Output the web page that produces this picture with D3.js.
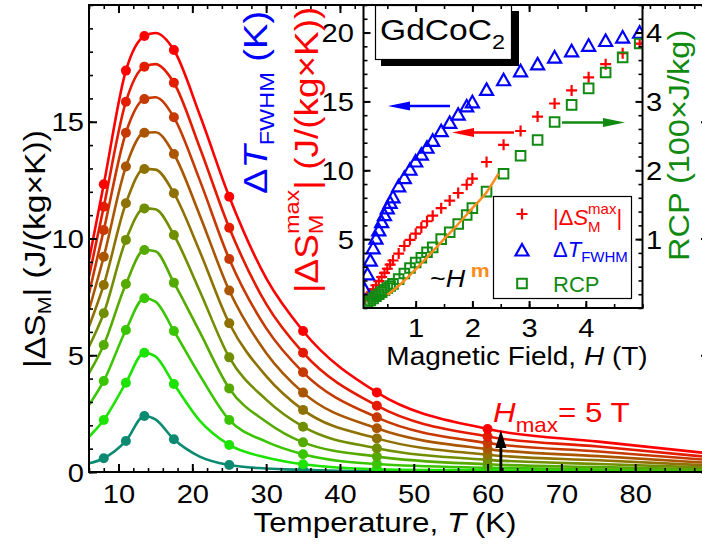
<!DOCTYPE html>
<html>
<head>
<meta charset="utf-8">
<title>GdCoC2 magnetic entropy change</title>
<script src="https://cdn.jsdelivr.net/npm/d3@7/dist/d3.min.js"></script>
<style>
  html, body { margin: 0; padding: 0; background: #fff; }
  svg { display: block; }
  text { font-family: "Liberation Sans", Arial, Helvetica, sans-serif; white-space: pre; }
</style>
</head>
<body>
<svg id="chart" width="702" height="546" viewBox="0 0 702 546"></svg>
<script>
// ---------- main panel: |ΔS_M| (J/(kg×K)) versus temperature, one curve per field step ----------
const fieldSteps = [0.5, 1, 1.5, 2, 2.5, 3, 3.5, 4, 4.5, 5];
const fieldColors = ["#0b8a72", "#1ce300", "#39c600", "#55aa00", "#718e00",
                     "#8e7100", "#aa5500", "#c63900", "#e31c00", "#ff0000"];

// measured points
const markerT = [8, 11, 13.5, 17.5, 25, 35, 45, 60];
const dS_05 = [0.59, 1.33, 2.40, 1.40, 0.30, 0.09, 0.02, 0.01];
const dS_10 = [2.23, 3.82, 5.11, 3.77, 1.16, 0.33, 0.12, 0.07];
const dS_15 = [3.90, 6.08, 7.44, 6.04, 2.23, 0.76, 0.34, 0.18];
const dS_20 = [5.44, 8.05, 9.51, 8.11, 3.58, 1.27, 0.66, 0.33];
const dS_25 = [6.80, 9.94, 11.29, 10.15, 4.91, 1.94, 1.02, 0.52];
const dS_30 = [8.01, 11.51, 12.98, 11.94, 6.37, 2.66, 1.44, 0.74];
const dS_35 = [9.22, 13.08, 14.53, 13.62, 7.77, 3.40, 1.87, 0.98];
const dS_40 = [10.36, 14.53, 15.97, 15.19, 9.12, 4.27, 2.34, 1.24];
const dS_45 = [11.36, 15.86, 17.36, 16.67, 10.46, 5.11, 2.84, 1.52];
const dS_50 = [12.32, 17.19, 18.67, 18.07, 11.79, 6.04, 3.41, 1.84];

// smooth fitted curves
const fitT = [6, 8, 11, 13.5, 15, 17.5, 21, 25, 30, 35, 45, 60, 75, 90];
const fit_05 = [0.37, 0.59, 1.33, 2.40, 2.25, 1.40, 0.66, 0.30, 0.15, 0.09, 0.03, 0.01, 0.005, 0.003];
const fit_10 = [1.51, 2.23, 3.82, 5.11, 4.95, 3.77, 2.20, 1.16, 0.62, 0.33, 0.12, 0.07, 0.04, 0.02];
const fit_15 = [2.87, 3.90, 6.08, 7.44, 7.30, 6.04, 4.15, 2.23, 1.30, 0.76, 0.34, 0.18, 0.11, 0.06];
const fit_20 = [4.23, 5.44, 8.05, 9.51, 9.45, 8.11, 6.00, 3.58, 2.15, 1.27, 0.66, 0.33, 0.21, 0.11];
const fit_25 = [5.37, 6.80, 9.94, 11.29, 11.25, 10.15, 7.75, 4.91, 3.10, 1.94, 1.02, 0.52, 0.34, 0.19];
const fit_30 = [6.23, 8.01, 11.51, 12.98, 12.95, 11.94, 9.45, 6.37, 4.11, 2.66, 1.44, 0.74, 0.50, 0.28];
const fit_35 = [6.94, 9.22, 13.08, 14.53, 14.55, 13.62, 11.00, 7.77, 5.10, 3.40, 1.87, 0.98, 0.68, 0.39];
const fit_40 = [7.65, 10.36, 14.53, 15.97, 16.05, 15.19, 12.50, 9.12, 6.16, 4.27, 2.34, 1.24, 0.88, 0.51];
const fit_45 = [8.37, 11.36, 15.86, 17.36, 17.47, 16.67, 13.90, 10.46, 7.20, 5.11, 2.84, 1.52, 1.09, 0.64];
const fit_50 = [9.08, 12.32, 17.19, 18.67, 18.80, 18.07, 15.30, 11.79, 8.30, 6.04, 3.41, 1.84, 1.30, 0.80];

const mainXTicks = [10, 20, 30, 40, 50, 60, 70, 80];
const mainYTicks = [0, 5, 10, 15];

// ---------- inset: peak |ΔS_M|, ΔT_FWHM and RCP versus field ----------
const fieldH = [0.1, 0.15, 0.2, 0.25, 0.3, 0.35, 0.4, 0.45, 0.5, 0.55, 0.6, 0.7, 0.8, 0.9, 1.0,
                1.1, 1.2, 1.3, 1.45, 1.6, 1.75, 1.9, 2.0, 2.25, 2.55, 2.85, 3.15, 3.45, 3.75,
                4.05, 4.35, 4.65, 4.95];
const dSmax = [0.65, 0.85, 1.05, 1.35, 1.65, 1.95, 2.25, 2.55, 2.85, 3.15, 3.45, 3.95, 4.5, 4.95, 5.4,
               5.85, 6.3, 6.7, 7.25, 7.8, 8.35, 8.95, 9.4, 10.6, 11.85, 12.85, 13.9, 14.85, 15.8,
               16.75, 17.7, 18.5, 19.2];
const dTfwhm = [1.3, 2.4, 3.4, 4.3, 5.0, 5.6, 6.2, 6.7, 7.2, 7.6, 8.0, 8.8, 9.4, 10.0, 10.6,
                11.1, 11.6, 12.1, 12.8, 13.4, 14.0, 14.6, 14.9, 15.8, 16.5, 17.15, 17.65, 18.15, 18.6,
                19.0, 19.35, 19.6, 19.95];
const rcp = [0.06, 0.08, 0.11, 0.14, 0.17, 0.2, 0.23, 0.26, 0.29, 0.32, 0.35, 0.42, 0.5, 0.58, 0.66,
             0.73, 0.81, 0.88, 1.0, 1.1, 1.22, 1.35, 1.45, 1.69, 1.95, 2.21, 2.44, 2.70, 2.95,
             3.19, 3.42, 3.64, 3.84];
// power-law fit through the low-field RCP points
const fitH = [0.5, 0.75, 1.0, 1.25, 1.5, 1.75, 2.0, 2.25, 2.46];
const fitRCP = [0.19, 0.36, 0.56, 0.78, 1.0, 1.22, 1.45, 1.68, 1.95];

const insetHTicks = [1, 2, 3, 4];
const insetLeftTicks = [5, 10, 15, 20];
const insetRightTicks = [1, 2, 3, 4];

// ---------- drawing ----------
const SX = 1.12;                 // horizontal widening of the lettering
const RED = "#ff0000", BLUE = "#0000ff", GREEN = "#108a10", ORANGE = "#ff8c1a";

const svg = d3.select("#chart");
const measureG = svg.append("g").attr("visibility", "hidden");

function textWidth(str, size, opts = {}) {
  const t = measureG.append("text").attr("font-size", size)
    .attr("font-style", opts.italic ? "italic" : null).text(str);
  const w = t.node().getComputedTextLength();
  t.remove();
  return w;
}

// text with sub/superscripts; parts carry their own size, offset and style
function richText(parent, cfg) {
  const { x, y, rotate = 0, sx = SX, size, anchor = "start", fill = "#000", parts } = cfg;
  const g = parent.append("g")
    .attr("transform", `translate(${x},${y}) rotate(${rotate}) scale(${sx},1)`);
  const text = g.append("text").attr("font-size", size).attr("fill", fill).attr("text-anchor", anchor);
  let shift = 0, carryDx = 0;
  parts.forEach(p => {
    if (p.stack) {
      const fs = p.size;
      const wSup = textWidth(p.sup, fs), wSub = textWidth(p.sub, fs);
      text.append("tspan").attr("font-size", fs).attr("dx", carryDx || null)
        .attr("dy", p.supDy - shift).text(p.sup);
      text.append("tspan").attr("font-size", fs).attr("dx", -wSup)
        .attr("dy", p.subDy - p.supDy).text(p.sub);
      shift = p.subDy;
      carryDx = Math.max(wSup - wSub, 0);
      return;
    }
    const off = p.dy || 0;
    const ts = text.append("tspan").attr("font-size", p.size || size).attr("dy", off - shift);
    const dx = (p.dx || 0) + carryDx;
    if (dx) ts.attr("dx", dx);
    carryDx = 0;
    if (p.italic) ts.attr("font-style", "italic");
    if (p.bold) ts.attr("font-weight", "bold");
    if (p.fill) ts.attr("fill", p.fill);
    ts.text(p.t);
    shift = off;
  });
  return g;
}

function styleAxis(sel, width) {
  sel.select(".domain").remove();
  sel.selectAll(".tick line").attr("stroke", "#000").attr("stroke-width", width);
  sel.attr("font-family", null).attr("font-size", 26);
}

// ----- main panel -----
const x = d3.scaleLinear().domain([6, 90]).range([89, 709]);
const y = d3.scaleLinear().domain([0, 20]).range([472, 5]);

const main = svg.append("g");
main.append("clipPath").attr("id", "mainClip")
  .append("rect").attr("x", 89).attr("y", 5).attr("width", 620).attr("height", 467);

const markerSets = [dS_05, dS_10, dS_15, dS_20, dS_25, dS_30, dS_35, dS_40, dS_45, dS_50];
const fitSets = [fit_05, fit_10, fit_15, fit_20, fit_25, fit_30, fit_35, fit_40, fit_45, fit_50];

const line = d3.line().x(d => x(d[0])).y(d => y(d[1])).curve(d3.curveMonotoneX);
const plot = main.append("g").attr("clip-path", "url(#mainClip)");
fieldSteps.forEach((h, i) => {
  const col = fieldColors[i];
  plot.append("path")
    .datum(fitT.map((t, j) => [t, fitSets[i][j]]))
    .attr("d", line).attr("fill", "none").attr("stroke", col).attr("stroke-width", 2.6);
  plot.append("g").selectAll("circle")
    .data(markerT.map((t, j) => [t, markerSets[i][j]]))
    .join("circle")
    .attr("cx", d => x(d[0])).attr("cy", d => y(d[1])).attr("r", 5).attr("fill", col);
});

// main axes (ticks point inward)
const minorX = d3.range(6, 91, 2), minorY = d3.range(0, 21, 1);
main.append("g").attr("transform", "translate(0,472)")
  .call(d3.axisBottom(x).tickValues(minorX).tickSize(-4).tickFormat("")).call(styleAxis, 1.6);
const axB = main.append("g").attr("transform", "translate(0,472)")
  .call(d3.axisBottom(x).tickValues(mainXTicks).tickSize(-8).tickFormat(d3.format("d"))).call(styleAxis, 2);
axB.selectAll("text").attr("y", null).attr("dy", null).attr("fill", "#000")
  .attr("transform", `translate(0,31) scale(${SX},1)`);

main.append("g").attr("transform", "translate(0,5)")
  .call(d3.axisTop(x).tickValues(minorX).tickSize(-4).tickFormat("")).call(styleAxis, 1.6);
main.append("g").attr("transform", "translate(0,5)")
  .call(d3.axisTop(x).tickValues(mainXTicks).tickSize(-8).tickFormat("")).call(styleAxis, 2);

main.append("g").attr("transform", "translate(89,0)")
  .call(d3.axisLeft(y).tickValues(minorY).tickSize(-4).tickFormat("")).call(styleAxis, 1.6);
const axL = main.append("g").attr("transform", "translate(89,0)")
  .call(d3.axisLeft(y).tickValues(mainYTicks).tickSize(-8).tickFormat(d3.format("d"))).call(styleAxis, 2);
axL.selectAll("text").attr("x", null).attr("dy", null).attr("fill", "#000")
  .attr("text-anchor", "end").attr("transform", `translate(-5,9) scale(${SX},1)`);

main.append("g").attr("transform", "translate(709,0)")
  .call(d3.axisRight(y).tickValues(minorY).tickSize(-4).tickFormat("")).call(styleAxis, 1.6);
main.append("g").attr("transform", "translate(709,0)")
  .call(d3.axisRight(y).tickValues([0, 5, 10, 15, 20]).tickSize(-8).tickFormat("")).call(styleAxis, 2);

main.append("rect").attr("x", 89).attr("y", 5).attr("width", 620).attr("height", 467)
  .attr("fill", "none").attr("stroke", "#000").attr("stroke-width", 2);

// axis titles
richText(main, { x: 385, y: 532, size: 28, anchor: "middle",
  parts: [{ t: "Temperature, " }, { t: "T", italic: true }, { t: " (K)" }] });
richText(main, { x: 45, y: 249, rotate: -90, size: 30, anchor: "middle",
  parts: [{ t: "|ΔS" }, { t: "M", size: 19, dy: 6 }, { t: "| (J/(kg×K))" }] });

// H_max annotation and arrow
richText(main, { x: 493, y: 421.5, size: 28, fill: RED,
  parts: [{ t: "H", italic: true }, { t: "max", size: 20, dy: 10 }, { t: "= 5 T" }] });
main.append("line").attr("x1", x(61.8)).attr("x2", x(61.8)).attr("y1", y(0)).attr("y2", 444)
  .attr("stroke", "#000").attr("stroke-width", 2.8);
main.append("path")
  .attr("d", `M${x(61.8)},430 L${x(61.8) - 5.5},448 L${x(61.8) + 5.5},448 Z`).attr("fill", "#000");

// ----- inset -----
const ix = d3.scaleLinear().domain([0.08, 5]).range([363.5, 642.5]);
const iyL = d3.scaleLinear().domain([0, 22]).range([308, 5]);
const iyR = d3.scaleLinear().domain([0, 4.4]).range([308, 5]);

const inset = svg.append("g");
inset.append("rect").attr("x", 363.5).attr("y", 5).attr("width", 279).attr("height", 303).attr("fill", "#fff");
inset.append("clipPath").attr("id", "insetClip")
  .append("rect").attr("x", 363.5).attr("y", 5).attr("width", 279).attr("height", 303);

// GdCoC2 tag with drop shadow
inset.append("rect").attr("x", 381).attr("y", 11).attr("width", 138).attr("height", 55).attr("fill", "#000");
inset.append("rect").attr("x", 375.5).attr("y", 5.5).attr("width", 136).attr("height", 54)
  .attr("fill", "#fff").attr("stroke", "#000").attr("stroke-width", 1.2);
richText(inset, { x: 380, y: 40, size: 30,
  parts: [{ t: "GdCoC" }, { t: "2", size: 21, dy: 9 }] });

const idata = inset.append("g").attr("clip-path", "url(#insetClip)");
const plusPath = "M-5.5,0H5.5M0,-5.5V5.5";
const triPath = "M0,-7L6.5,4.5L-6.5,4.5Z";
const sqPath = "M-4.8,-4.8H4.8V4.8H-4.8Z";

idata.append("g").selectAll("path").data(fieldH.map((h, i) => [h, dSmax[i]])).join("path")
  .attr("transform", d => `translate(${ix(d[0])},${iyL(d[1])})`).attr("d", plusPath)
  .attr("fill", "none").attr("stroke", RED).attr("stroke-width", 2.2);
idata.append("g").selectAll("path").data(fieldH.map((h, i) => [h, dTfwhm[i]])).join("path")
  .attr("transform", d => `translate(${ix(d[0])},${iyL(d[1])})`).attr("d", triPath)
  .attr("fill", "none").attr("stroke", BLUE).attr("stroke-width", 2.2);
idata.append("g").selectAll("path").data(fieldH.map((h, i) => [h, rcp[i]])).join("path")
  .attr("transform", d => `translate(${ix(d[0])},${iyR(d[1])})`).attr("d", sqPath)
  .attr("fill", "none").attr("stroke", GREEN).attr("stroke-width", 2);
idata.append("path")
  .datum(fitH.map((h, i) => [h, fitRCP[i]]))
  .attr("d", d3.line().x(d => ix(d[0])).y(d => iyR(d[1])).curve(d3.curveMonotoneX))
  .attr("fill", "none").attr("stroke", ORANGE).attr("stroke-width", 2.5);

// arrows pointing to each quantity's axis
function hArrow(x1, x2, yy, col) {
  const dir = Math.sign(x2 - x1);
  inset.append("line").attr("x1", x1).attr("x2", x2 - dir * 18).attr("y1", yy).attr("y2", yy)
    .attr("stroke", col).attr("stroke-width", 2.5);
  inset.append("path")
    .attr("d", `M${x2},${yy} L${x2 - dir * 22},${yy - 4.5} L${x2 - dir * 22},${yy + 4.5} Z`)
    .attr("fill", col);
}
hArrow(450, 388, 106, BLUE);
hArrow(514, 452, 132.5, RED);
hArrow(562, 625, 122.5, GREEN);

// ~H^m label
richText(inset, { x: 430, y: 287, size: 24,
  parts: [{ t: "~" }, { t: "H", italic: true }, { t: "m", size: 19, dy: -10, dx: 5, bold: true, fill: ORANGE }] });

// legend
inset.append("rect").attr("x", 493.5).attr("y", 196.5).attr("width", 138).attr("height", 102)
  .attr("fill", "#fff").attr("stroke", "#000").attr("stroke-width", 1.2);
inset.append("path").attr("transform", "translate(522,214)").attr("d", plusPath)
  .attr("fill", "none").attr("stroke", RED).attr("stroke-width", 2.2);
inset.append("path").attr("transform", "translate(522,251)").attr("d", triPath)
  .attr("fill", "none").attr("stroke", BLUE).attr("stroke-width", 2.2);
inset.append("path").attr("transform", "translate(522,283.5)").attr("d", sqPath)
  .attr("fill", "none").attr("stroke", GREEN).attr("stroke-width", 2);
richText(inset, { x: 553, y: 225, size: 22, sx: 1, fill: RED,
  parts: [{ t: "|Δ" }, { t: "S", italic: true }, { stack: true, sup: "max", sub: "M", size: 15, supDy: -11, subDy: 6.5 }, { t: "|" }] });
richText(inset, { x: 553, y: 257, size: 22, sx: 1, fill: BLUE,
  parts: [{ t: "Δ" }, { t: "T", italic: true }, { t: "FWHM", size: 15, dy: 5 }] });
richText(inset, { x: 553, y: 291.5, size: 22, sx: 1, fill: GREEN, parts: [{ t: "RCP" }] });

// inset axes
const minorH = d3.range(0.5, 5.01, 0.5), minorL = d3.range(0, 22.01, 1), minorR = d3.range(0, 4.41, 0.2);
inset.append("g").attr("transform", "translate(0,308)")
  .call(d3.axisBottom(ix).tickValues(minorH).tickSize(-4).tickFormat("")).call(styleAxis, 1.6);
const iaB = inset.append("g").attr("transform", "translate(0,308)")
  .call(d3.axisBottom(ix).tickValues(insetHTicks).tickSize(-7).tickFormat(d3.format("d"))).call(styleAxis, 2);
iaB.selectAll("text").attr("y", null).attr("dy", null).attr("fill", "#000")
  .attr("transform", `translate(0,29) scale(${SX},1)`);
inset.append("g").attr("transform", "translate(0,5)")
  .call(d3.axisTop(ix).tickValues(minorH).tickSize(-4).tickFormat("")).call(styleAxis, 1.6);
inset.append("g").attr("transform", "translate(0,5)")
  .call(d3.axisTop(ix).tickValues(insetHTicks).tickSize(-7).tickFormat("")).call(styleAxis, 2);

inset.append("g").attr("transform", "translate(363.5,0)")
  .call(d3.axisLeft(iyL).tickValues(minorL).tickSize(-4).tickFormat("")).call(styleAxis, 1.6);
const iaL = inset.append("g").attr("transform", "translate(363.5,0)")
  .call(d3.axisLeft(iyL).tickValues(insetLeftTicks).tickSize(-7).tickFormat(d3.format("d"))).call(styleAxis, 2);
iaL.selectAll("text").attr("x", null).attr("dy", null).attr("fill", "#000")
  .attr("text-anchor", "end").attr("transform", `translate(-9.5,9) scale(${SX},1)`);

inset.append("g").attr("transform", "translate(642.5,0)")
  .call(d3.axisRight(iyR).tickValues(minorR).tickSize(-4).tickFormat("")).call(styleAxis, 1.6);
const iaR = inset.append("g").attr("transform", "translate(642.5,0)")
  .call(d3.axisRight(iyR).tickValues(insetRightTicks).tickSize(-7).tickFormat(d3.format("d"))).call(styleAxis, 2);
iaR.selectAll("text").attr("x", null).attr("dy", null).attr("fill", "#000")
  .attr("text-anchor", "start").attr("transform", `translate(3.5,9) scale(${SX},1)`);

inset.append("rect").attr("x", 363.5).attr("y", 5).attr("width", 279).attr("height", 303)
  .attr("fill", "none").attr("stroke", "#000").attr("stroke-width", 2);

// inset axis titles
richText(inset, { x: 517, y: 365, size: 25, anchor: "middle",
  parts: [{ t: "Magnetic Field, " }, { t: "H", italic: true }, { t: " (T)" }] });
richText(svg, { x: 267, y: 194, rotate: -90, size: 34, fill: BLUE,
  parts: [{ t: "Δ" }, { t: "T", italic: true }, { t: "FWHM", size: 21, dy: 7 }, { t: " (K)" }] });
richText(svg, { x: 318, y: 293, rotate: -90, size: 33, fill: RED,
  parts: [{ t: "|ΔS" }, { stack: true, sup: "max", sub: "M", size: 21, supDy: -19, subDy: 5 }, { t: "| (J/(kg×K))" }] });
richText(svg, { x: 689, y: 261, rotate: -90, size: 29, fill: GREEN,
  parts: [{ t: "RCP (100×J/kg)" }] });
</script>
</body>
</html>
